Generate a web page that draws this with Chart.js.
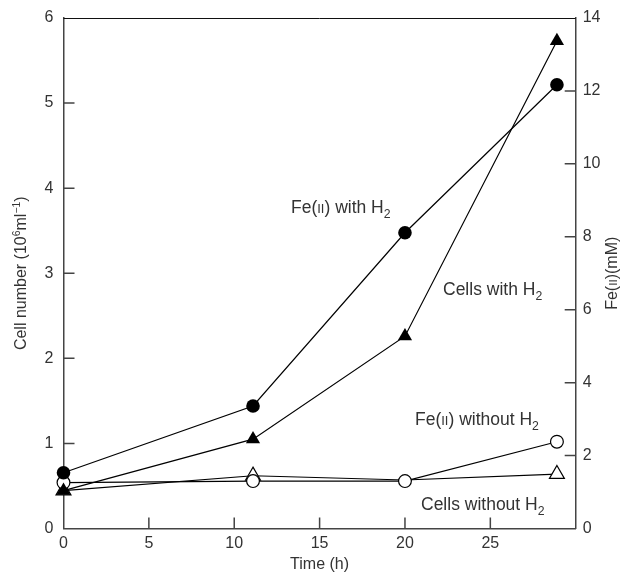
<!DOCTYPE html>
<html>
<head>
<meta charset="utf-8">
<script src="https://cdn.jsdelivr.net/npm/chart.js@4.4.0/dist/chart.umd.min.js"></script>
<style>
    html, body { margin: 0; padding: 0; background: #fff; }
    #wrap { width: 620px; height: 572px; }
</style>
</head>
<body>
<div id="wrap"><canvas id="chart" width="620" height="572"></canvas></div>
<script>
// Values
const timesH = [0, 11.1, 20, 28.9];
const feWithH2 = [1.53, 3.36, 8.11, 12.17];        // mM, right axis
const cellsWithH2 = [0.445, 1.05, 2.26, 5.73];     // 10^6 ml^-1, left axis
const feWithoutH2 = [1.26, 1.30, 1.30, 2.38];      // mM, right axis
const cellsWithoutH2 = [0.445, 0.62, 0.57, 0.64];  // 10^6 ml^-1, left axis

const timeTicks = [0, 5, 10, 15, 20, 25];
const cellTicks = [0, 1, 2, 3, 4, 5, 6];
const feTicks = [0, 2, 4, 6, 8, 10, 12, 14];

const FONT = '"Liberation Sans", Arial, Helvetica, sans-serif';
const TEXT = '#333';

function toPoints(ys) {
    return ys.map((y, i) => ({ x: timesH[i], y: y }));
}

// draw a run of text pieces (small caps, sub/superscripts)
function runWidth(ctx, runs, size) {
    let w = 0;
    runs.forEach(r => {
        ctx.font = (size * (r.scale || 1)) + 'px ' + FONT;
        w += ctx.measureText(r.t).width;
    });
    return w;
}
function drawRuns(ctx, x, y, runs, size) {
    let cx = x;
    runs.forEach(r => {
        ctx.font = (size * (r.scale || 1)) + 'px ' + FONT;
        ctx.fillText(r.t, cx, y + (r.dy || 0) * size);
        cx += ctx.measureText(r.t).width;
    });
}

const SC = 0.74;
const sub2 = { t: '2', scale: 0.7, dy: 0.3 };

const labels = [
    { x: 291, y: 213, runs: [{ t: 'Fe(' }, { t: 'II', scale: SC }, { t: ') with H' }, sub2] },
    { x: 443, y: 295, runs: [{ t: 'Cells with H' }, sub2] },
    { x: 415, y: 425, runs: [{ t: 'Fe(' }, { t: 'II', scale: SC }, { t: ') without H' }, sub2] },
    { x: 421, y: 510, runs: [{ t: 'Cells without H' }, sub2] }
];

const decorations = {
    id: 'decorations',
    afterDraw(chart) {
        const ctx = chart.ctx;
        const area = chart.chartArea;
        const xs = chart.scales.x, yl = chart.scales.yCells, yr = chart.scales.yFe;
        ctx.save();

        // top frame line
        ctx.strokeStyle = '#111';
        ctx.lineWidth = 1;
        ctx.beginPath();
        ctx.moveTo(area.left, area.top + 0.5);
        ctx.lineTo(area.right, area.top + 0.5);
        ctx.stroke();

        // inward tick marks
        ctx.strokeStyle = '#444';
        ctx.lineWidth = 1.5;
        const len = 11;
        ctx.beginPath();
        cellTicks.slice(1, -1).forEach(v => {
            const p = yl.getPixelForValue(v);
            ctx.moveTo(area.left, p);
            ctx.lineTo(area.left + len, p);
        });
        feTicks.slice(1, -1).forEach(v => {
            const p = yr.getPixelForValue(v);
            ctx.moveTo(area.right, p);
            ctx.lineTo(area.right - len, p);
        });
        timeTicks.slice(1).forEach(v => {
            const p = xs.getPixelForValue(v);
            ctx.moveTo(p, area.bottom);
            ctx.lineTo(p, area.bottom - len);
        });
        ctx.stroke();

        ctx.fillStyle = TEXT;
        ctx.textBaseline = 'alphabetic';
        ctx.textAlign = 'left';

        // series labels
        labels.forEach(l => drawRuns(ctx, l.x, l.y, l.runs, 17.5));

        // x title
        const xRuns = [{ t: 'Time (h)' }];
        drawRuns(ctx, (area.left + area.right) / 2 - runWidth(ctx, xRuns, 16) / 2, 569, xRuns, 16);

        // left title
        const lRuns = [{ t: 'Cell number (10' }, { t: '6', scale: 0.65, dy: -0.38 }, { t: 'ml' },
            { t: '\u22121', scale: 0.65, dy: -0.38 }, { t: ')' }];
        ctx.save();
        ctx.translate(26, (area.top + area.bottom) / 2);
        ctx.rotate(-Math.PI / 2);
        drawRuns(ctx, -runWidth(ctx, lRuns, 16) / 2, 0, lRuns, 16);
        ctx.restore();

        // right title
        const rRuns = [{ t: 'Fe(' }, { t: 'II', scale: SC }, { t: ')(mM)' }];
        ctx.save();
        ctx.translate(617, (area.top + area.bottom) / 2);
        ctx.rotate(-Math.PI / 2);
        drawRuns(ctx, -runWidth(ctx, rRuns, 16) / 2, 0, rRuns, 16);
        ctx.restore();

        ctx.restore();
    }
};

const lineStyle = {
    borderColor: '#000',
    borderWidth: 1.2,
    tension: 0,
    clip: false,
    showLine: true
};

new Chart(document.getElementById('chart'), {
    type: 'scatter',
    data: {
        datasets: [
            {
                ...lineStyle,
                label: 'Fe(II) with H2',
                data: toPoints(feWithH2),
                yAxisID: 'yFe',
                pointStyle: 'circle',
                pointRadius: 6.8,
                pointBackgroundColor: '#000',
                pointBorderColor: '#000',
                pointBorderWidth: 0
            },
            {
                ...lineStyle,
                label: 'Cells with H2',
                data: toPoints(cellsWithH2),
                yAxisID: 'yCells',
                pointStyle: 'triangle',
                pointRadius: 8.2,
                pointBackgroundColor: '#000',
                pointBorderColor: '#000',
                pointBorderWidth: 0
            },
            {
                ...lineStyle,
                label: 'Fe(II) without H2',
                data: toPoints(feWithoutH2),
                yAxisID: 'yFe',
                pointStyle: 'circle',
                pointRadius: 6.4,
                pointBackgroundColor: '#fff',
                pointBorderColor: '#000',
                pointBorderWidth: 1.2
            },
            {
                ...lineStyle,
                label: 'Cells without H2',
                data: toPoints(cellsWithoutH2),
                yAxisID: 'yCells',
                pointStyle: 'triangle',
                pointRadius: [8.6, 8.6, 0, 8.6],
                pointBackgroundColor: '#fff',
                pointBorderColor: '#000',
                pointBorderWidth: 1.2
            }
        ]
    },
    options: {
        responsive: false,
        animation: false,
        events: [],
        layout: { autoPadding: false, padding: { top: 18, left: 0, right: 0, bottom: 0 } },
        plugins: {
            legend: { display: false },
            tooltip: { enabled: false }
        },
        scales: {
            x: {
                type: 'linear',
                min: 0,
                max: 30,
                afterBuildTicks: s => { s.ticks = timeTicks.map(v => ({ value: v })); },
                afterFit: s => { s.height = 43.5; },
                grid: { display: false },
                border: { display: true, color: '#444', width: 1.5 },
                ticks: { color: TEXT, font: { family: FONT, size: 16 }, padding: -3, maxRotation: 0 }
            },
            yCells: {
                type: 'linear',
                position: 'left',
                min: 0,
                max: 6,
                afterBuildTicks: s => { s.ticks = cellTicks.map(v => ({ value: v })); },
                afterFit: s => { s.width = 63.5; },
                grid: { display: false },
                border: { display: true, color: '#444', width: 1.5 },
                ticks: { color: TEXT, font: { family: FONT, size: 16 }, padding: 2 }
            },
            yFe: {
                type: 'linear',
                position: 'right',
                min: 0,
                max: 14,
                afterBuildTicks: s => { s.ticks = feTicks.map(v => ({ value: v })); },
                afterFit: s => { s.width = 44.3; },
                grid: { display: false },
                border: { display: true, color: '#444', width: 1.5 },
                ticks: { color: TEXT, font: { family: FONT, size: 16 }, padding: -1 }
            }
        }
    },
    plugins: [decorations]
});
</script>
</body>
</html>
